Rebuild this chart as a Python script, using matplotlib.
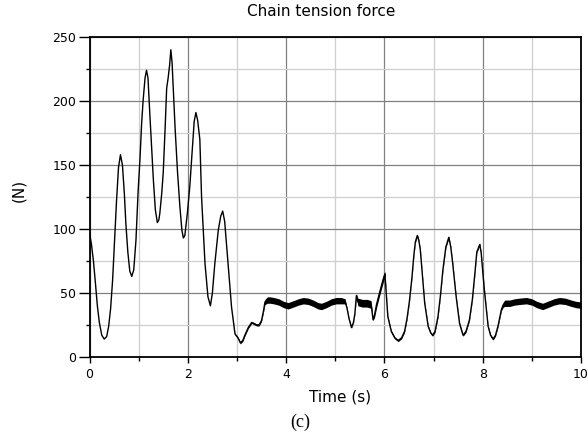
import matplotlib
matplotlib.use("Agg")
import matplotlib.pyplot as plt
import numpy as np
from matplotlib.ticker import MultipleLocator

# ---- data ----
time_s = [
    0.00, 0.04, 0.08, 0.12, 0.16, 0.20, 0.25, 0.30, 0.35, 0.39, 0.43, 0.47, 0.51, 0.55, 0.59, 0.63,
    0.67, 0.71, 0.74, 0.78, 0.82, 0.86, 0.90, 0.945, 0.99, 1.03, 1.06, 1.09, 1.13, 1.16, 1.19, 1.23,
    1.27, 1.30, 1.34, 1.38, 1.41, 1.43, 1.47, 1.50, 1.54, 1.57, 1.60, 1.63, 1.655, 1.68, 1.71, 1.74,
    1.79, 1.84, 1.88, 1.91, 1.94, 1.99, 2.04, 2.10, 2.13, 2.165, 2.20, 2.245, 2.28, 2.31, 2.35, 2.41,
    2.46, 2.50, 2.55, 2.62, 2.67, 2.71, 2.75, 2.82, 2.89, 2.96, 3.02, 3.07, 3.12, 3.16, 3.23, 3.30,
    3.35, 3.40, 3.45, 3.50, 3.54, 3.57, 3.62, 3.67, 3.75, 3.85, 3.95, 4.04, 4.15, 4.25, 4.35, 4.45,
    4.55, 4.65, 4.72, 4.82, 4.92, 5.02, 5.12, 5.20, 5.24, 5.28, 5.33, 5.37, 5.40, 5.43, 5.46, 5.55,
    5.65, 5.73, 5.77, 5.80, 5.84, 5.90, 5.97, 6.01, 6.04, 6.07, 6.14, 6.21, 6.28, 6.35, 6.41, 6.46,
    6.51, 6.56, 6.60, 6.63, 6.67, 6.70, 6.73, 6.77, 6.82, 6.89, 6.94, 6.98, 7.03, 7.09, 7.14, 7.19,
    7.25, 7.31, 7.35, 7.39, 7.46, 7.53, 7.60, 7.66, 7.73, 7.79, 7.84, 7.88, 7.94, 7.97, 8.00, 8.04,
    8.11, 8.16, 8.21, 8.26, 8.31, 8.38, 8.42, 8.45, 8.55, 8.65, 8.75, 8.89, 9.00, 9.10, 9.22, 9.32,
    9.45, 9.56, 9.68, 9.80, 9.90, 10.0,
]
force_N = [
    97, 88, 75, 58, 40, 27, 17, 14, 16, 24, 38, 60, 91, 122, 148, 158,
    150, 127, 104, 82, 67, 63, 68, 91, 130, 157, 182, 200, 218, 224, 218, 188,
    160, 138, 115, 105, 107, 112, 128, 144, 180, 210, 218, 228, 240, 230, 205, 180,
    145, 117, 99, 93, 95, 112, 133, 167, 184, 191, 185, 170, 125, 102, 73, 47,
    40, 50, 73, 99, 110, 114, 106, 73, 39, 18, 15, 11, 13, 17, 23, 27,
    26, 25, 25, 28.5, 36, 43, 44.5, 44.5, 44, 43, 41, 40, 41.5, 43, 44, 43.5,
    42, 40, 39.5, 41, 43, 44, 44, 43.5, 38, 30, 23, 27, 34, 48, 43, 42,
    42, 41, 29, 33, 41, 50, 60, 65, 48, 31.5, 20, 15, 12.8, 15, 20, 30,
    44, 62, 80, 90, 95, 91, 84, 65, 42, 24, 19, 17, 20, 31.5, 48, 68,
    86, 93.5, 86, 73, 47, 26, 17, 20, 29, 45, 65, 82, 88, 81, 67, 50,
    24, 17, 14, 17, 24, 37, 41, 42, 42, 43, 43.5, 44, 43, 41, 39.5, 41,
    43, 44, 43.5, 42, 41, 40.5,
]
# half-width of the fast ripple band seen on the trace
ripple_N = [
    0, 0, 0, 0, 0, 0, 0, 0, 0, 0, 0, 0, 0, 0, 0, 0,
    0, 0, 0, 0, 0, 0, 0, 0, 0, 0, 0, 0, 0, 0, 0, 0,
    0, 0, 0, 0, 0, 0, 0, 0, 0, 0, 0, 0, 0, 0, 0, 0,
    0, 0, 0, 0, 0, 0, 0, 0, 0, 0, 0, 0, 0, 0, 0, 0,
    0, 0, 0, 0, 0, 0, 0, 0, 0, 0.6, 0.8, 0.8, 0.8, 0.8, 0.8, 0.8,
    0.8, 0.8, 0.8, 0.8, 1.0, 2.0, 2.5, 2.5, 2.5, 2.5, 2.5, 2.5, 2.5, 2.5, 2.5, 2.5,
    2.5, 2.5, 2.5, 2.5, 2.5, 2.5, 2.5, 2.0, 0.5, 0.5, 0.5, 0.5, 0.5, 1.5, 3.0, 3.0,
    3.0, 3.0, 0.5, 2.0, 2.5, 2.5, 2.5, 2.0, 0.8, 0.8, 0.8, 0.8, 0.8, 0.8, 0.8, 0.8,
    0.8, 0.8, 0.8, 0.8, 0.8, 0.8, 0.8, 0.8, 0.8, 0.8, 0.8, 0.8, 0.8, 0.8, 0.8, 0.8,
    0.8, 0.8, 0.8, 0.8, 0.8, 0.8, 0.8, 0.8, 0.8, 0.8, 0.8, 0.8, 0.8, 0.8, 0.8, 0.8,
    0.8, 0.8, 0.8, 0.8, 0.8, 1.0, 2.0, 2.5, 2.5, 2.5, 2.5, 2.5, 2.5, 2.5, 2.5, 2.5,
    2.5, 2.5, 2.5, 2.5, 2.5, 2.5,
]
x_ticks = [0, 2, 4, 6, 8, 10]
y_ticks = [0, 50, 100, 150, 200, 250]

t = np.array(time_s)
f = np.array(force_N)
r = np.array(ripple_N)

plt.rcParams['font.family'] = ['DejaVu Sans']
fig = plt.figure(figsize=(5.88, 4.36), dpi=100)
ax = fig.add_axes([89.5 / 588, 79 / 436, 491.5 / 588, 320 / 436])

ax.set_xlim(0, 10)
ax.set_ylim(0, 250)
ax.set_xticks(x_ticks)
ax.set_yticks(y_ticks)
ax.xaxis.set_minor_locator(MultipleLocator(1))
ax.yaxis.set_minor_locator(MultipleLocator(25))

ax.grid(True, which='major', color='#808080', linewidth=0.9)
ax.grid(True, which='minor', color='#cfcfcf', linewidth=0.9)
ax.set_axisbelow(True)

ax.fill_between(t, f - r, f + r, color='black', linewidth=0, zorder=3)
ax.plot(t, f, color='black', linewidth=1.0, zorder=4)

for s in ax.spines.values():
    s.set_color('black')
    s.set_linewidth(1.3)

ax.tick_params(axis='x', which='major', direction='out', length=4, width=1, pad=4, labelsize=9)
ax.tick_params(axis='x', which='minor', direction='out', length=3, width=1)
ax.tick_params(axis='y', which='major', direction='out', length=8, width=1, pad=1.5, labelsize=9)
ax.tick_params(axis='y', which='minor', direction='out', length=3, width=1)

fig.text(321 / 588, 1 - 12 / 436, 'Chain tension force', ha='center', va='center', fontsize=11)
fig.text(340 / 588, 1 - 397 / 436, 'Time (s)', ha='center', va='center', fontsize=11)
fig.text(19 / 588, 1 - 190 / 436, '(N)', ha='center', va='center', rotation=90, fontsize=11)
fig.text(300 / 588, 1 - 422 / 436, '(c)', ha='center', va='center', fontsize=13,
         family='Liberation Serif')

fig.savefig('out.png', dpi=100)
